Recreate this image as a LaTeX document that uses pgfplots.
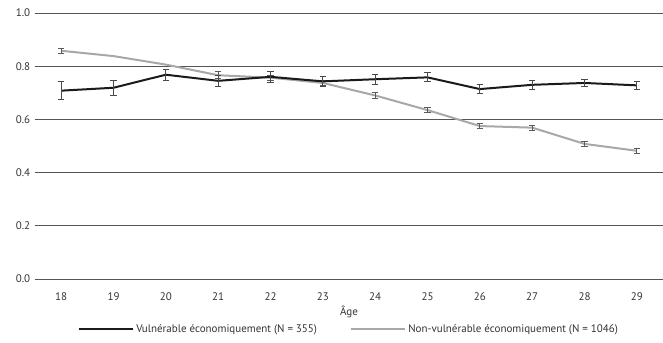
\documentclass[border=0pt]{standalone}
\usepackage{pgfplots}
\pgfplotsset{compat=1.18}
\usepackage{fontspec}
\setmainfont{PT Sans}
\definecolor{gridc}{HTML}{555555}
\definecolor{blk}{HTML}{1A1A1A}
\definecolor{gry}{HTML}{A8A8A8}
\definecolor{gryerr}{HTML}{5A5A5A}
\begin{document}
\fontsize{11bp}{13bp}\selectfont
\begin{tikzpicture}
\useasboundingbox (-35bp,-64bp) rectangle (628bp,279bp);
\begin{axis}[
  at={(0,0)}, anchor=south west,
  scale only axis, width=628bp, height=266bp,
  xmin=17.5, xmax=29.5, ymin=0, ymax=1,
  xtick={18,...,29}, ytick={0,0.2,0.4,0.6,0.8,1.0},
  yticklabel style={/pgf/number format/fixed, /pgf/number format/fixed zerofill, /pgf/number format/precision=1},
  /pgf/number format/assume math mode=true,
  ymajorgrids, grid style={gridc, line width=0.8bp},
  axis line style={draw=none}, major tick length=0pt,
  yticklabel style={anchor=east, xshift=-1bp, text=black!80},
  xticklabel style={anchor=center, yshift=-18bp, text=black!80},
  xlabel={Âge}, xlabel style={at={(axis description cs:0.5,0)}, anchor=center, yshift=-33bp, text=black!80},
  tick label style={font=\fontsize{11bp}{13bp}\selectfont},
  label style={font=\fontsize{11bp}{13bp}\selectfont},
  legend style={at={(axis description cs:0.5,-0.188)}, anchor=center, draw=none, fill=none,
    legend columns=2, /tikz/every even column/.style={column sep=30bp},
    font=\fontsize{11bp}{13bp}\selectfont, text=black!80, nodes={inner sep=2.5bp}},
  legend cell align=left,
  legend image code/.code={\draw[#1] (0bp,0bp) -- (54bp,0bp);},
]
\addlegendimage{blk, line width=2.2bp}
\addlegendentry{Vulnérable économiquement (N = 355)}
\addlegendimage{gry, line width=2.2bp}
\addlegendentry{Non-vulnérable économiquement (N = 1046)}

% Non-vulnerable line
\addplot[gry, line width=2bp, forget plot] table[x=a, y=v] {
a v
18 0.858
19 0.838
20 0.806
21 0.766
22 0.757
23 0.737
24 0.690
25 0.635
26 0.575
27 0.569
28 0.508
29 0.482
};
% Non-vulnerable error bars
\addplot[draw=none, mark=none, forget plot,
  error bars/.cd, y dir=both, y explicit,
  error bar style={draw=gryerr, line width=0.8bp},
  error mark options={draw=gryerr, rotate=90, mark size=3.3bp, line width=0.8bp}]
  table[x=a, y=v, y error=e] {
a v e
18 0.858 0.010
21 0.766 0.013
22 0.757 0.010
23 0.737 0.010
24 0.690 0.010
25 0.635 0.010
26 0.575 0.010
27 0.569 0.009
28 0.508 0.008
29 0.482 0.008
};
% Vulnerable line with error bars
\addplot[blk, line width=2bp, forget plot,
  error bars/.cd, y dir=both, y explicit,
  error bar style={gryerr!80!black, line width=0.8bp},
  error mark options={gryerr!80!black, rotate=90, mark size=3.3bp, line width=0.8bp}]
  table[x=a, y=v, y error=e] {
a v e
18 0.708 0.033
19 0.719 0.029
20 0.768 0.020
21 0.745 0.022
22 0.760 0.021
23 0.743 0.018
24 0.751 0.020
25 0.758 0.017
26 0.714 0.017
27 0.730 0.017
28 0.737 0.014
29 0.728 0.014
};
\end{axis}
\end{tikzpicture}
\end{document}
